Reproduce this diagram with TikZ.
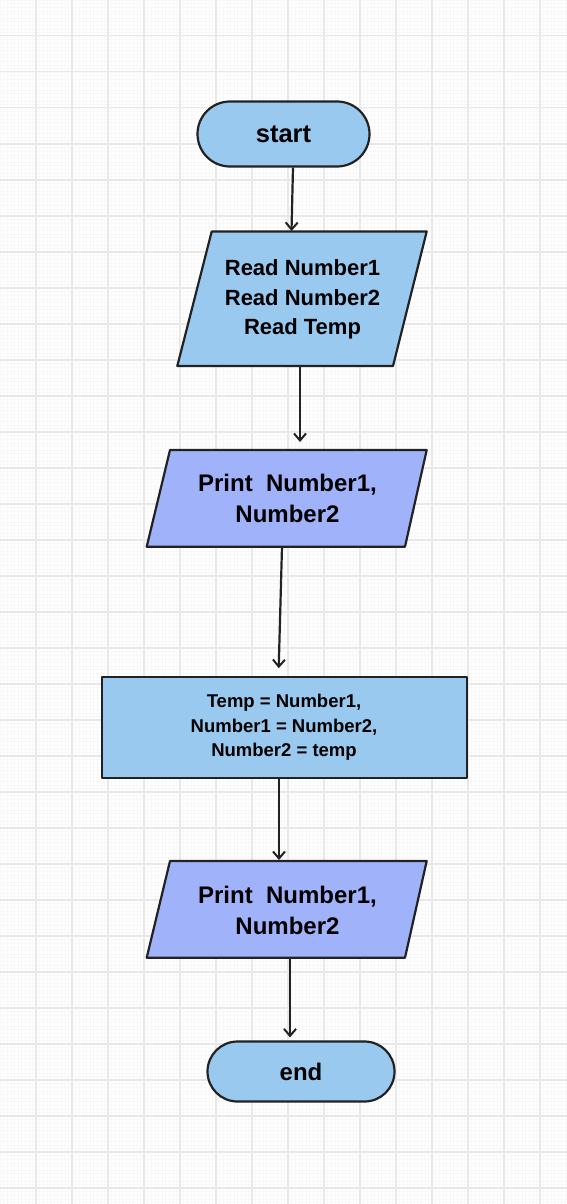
\documentclass[tikz,border=0pt]{standalone}
\usepackage{fontspec}
\setmainfont{Liberation Sans}
\usetikzlibrary{arrows.meta,shapes.misc}
\definecolor{gmajor}{HTML}{E8E8E8}
\definecolor{gminor}{HTML}{F8F8F8}
\definecolor{fillA}{HTML}{99C9EF}
\definecolor{fillB}{HTML}{A0B2FA}
\definecolor{strokec}{HTML}{222222}
\tikzset{
  shp/.style={draw=strokec, line width=2.2pt, fill=fillA, line join=round},
  term/.style={shp, rounded rectangle, inner sep=0pt},
  procbox/.style={shp, rectangle, inner sep=0pt},
  txt/.style={align=center, text=black, inner sep=0pt},
  arr/.style={draw=strokec, line width=2.2pt, -{Straight Barb[length=7pt,width=12pt,line width=2pt]}},
}
\newcommand{\fsz}[2]{\bfseries\fontsize{#1}{#2}\selectfont}
\begin{document}
\begin{tikzpicture}[x=1pt,y=-1pt]
\useasboundingbox (0,0) rectangle (567,1204);
\fill[white] (0,0) rectangle (567,1204);
% grid
\foreach \i in {0,...,157} \draw[gminor, line width=0.5pt] ({\i*3.6},0) -- ({\i*3.6},1204);
\foreach \i in {0,...,334} \draw[gminor, line width=0.5pt] (0,{\i*3.6}) -- (567,{\i*3.6});
\foreach \i in {1,...,15} \draw[gmajor, line width=1.6pt] ({\i*36-0.3},0) -- ({\i*36-0.3},1204);
\foreach \i in {1,...,33} \draw[gmajor, line width=1.6pt] (0,{\i*36-0.3}) -- (567,{\i*36-0.3});

% start
\node[term, minimum width=172pt, minimum height=65pt, font=\fsz{25.5}{30}] (start) at (283.5,134) {start};

% read parallelogram
\draw[shp] (211.7,231.5) -- (426.7,231.5) -- (393,366) -- (177.3,366) -- cycle;
\node[txt, font=\fsz{22}{29.5}] (read) at (302.5,299.5) {Read Number1\\Read Number2\\Read Temp};
\coordinate (readin) at (291.5,231);
\coordinate (readout) at (300,366);

% print 1
\draw[shp, fill=fillB] (170,450) -- (426.7,450) -- (405,546.7) -- (146.7,546.7) -- cycle;
\node[txt, font=\fsz{24}{31}] (printa) at (287.5,498.5) {Print\ \ Number1,\\Number2};
\coordinate (printain) at (300,442);
\coordinate (printaout) at (282,546.7);

% process
\node[procbox, minimum width=365pt, minimum height=100.5pt] (proc) at (284.2,727.5) {};
\node[txt, font=\fsz{18.5}{24.5}] (proctext) at (284,727.5) {Temp = Number1,\\Number1 = Number2,\\Number2 = temp};

% print 2
\draw[shp, fill=fillB] (170,861) -- (426.7,861) -- (405,957.7) -- (146.7,957.7) -- cycle;
\node[txt, font=\fsz{24}{31}] (printb) at (287.5,910.5) {Print\ \ Number1,\\Number2};
\coordinate (printbin) at (279,860);
\coordinate (printbout) at (290,957.7);

% end
\node[term, minimum width=187pt, minimum height=60pt, font=\fsz{24}{30}] (end) at (301,1071.5) {end};

% connectors
\draw[arr] ([xshift=9.5pt]start.south) -- (readin);
\draw[arr] (readout) -- (printain);
\draw[arr] (printaout) -- ([xshift=-5.5pt,yshift=8pt]proc.north);
\draw[arr] ([xshift=-5.2pt]proc.south) -- (printbin);
\draw[arr] (printbout) -- ([xshift=-11pt,yshift=3pt]end.north);
\end{tikzpicture}
\end{document}
